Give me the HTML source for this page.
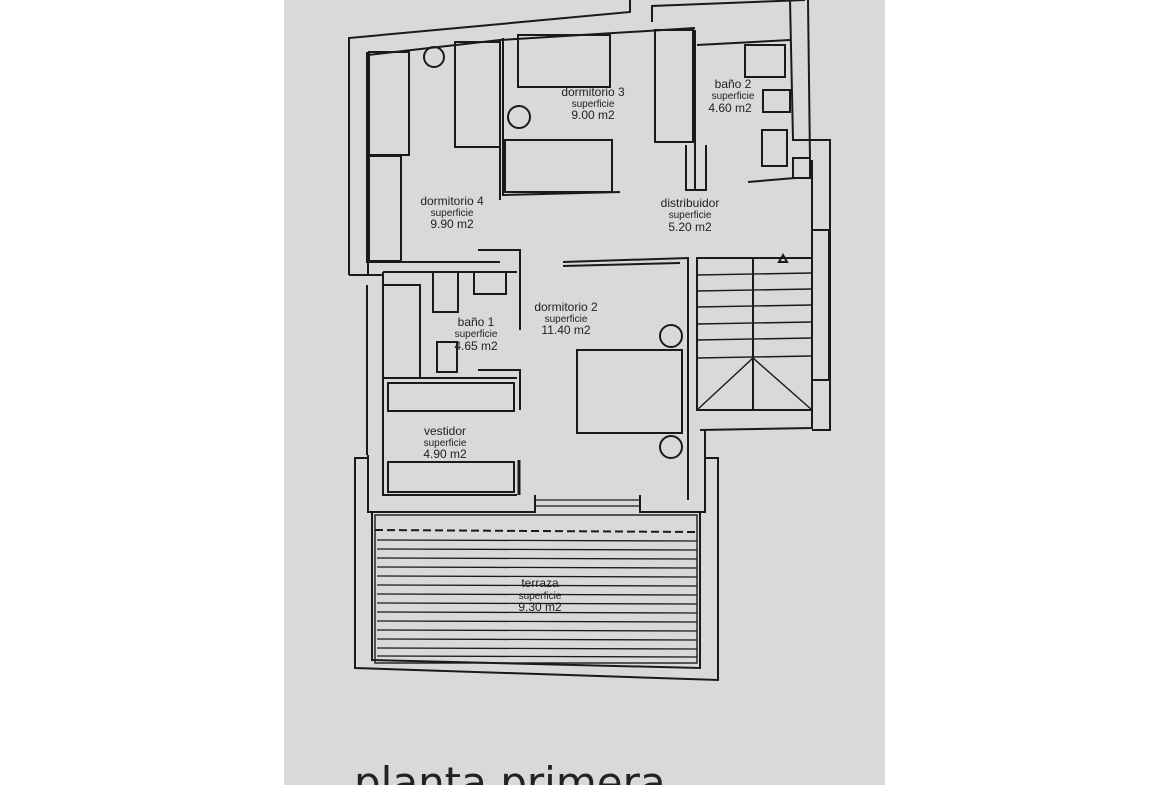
<!DOCTYPE html>
<html><head><style>
html,body{margin:0;padding:0;background:#fff;}
body{width:1170px;height:785px;overflow:hidden;position:relative;}
.paper{position:absolute;left:284px;top:0;width:601px;height:785px;background:#d9d9d9;}
svg{position:absolute;left:0;top:0;}
text{font-family:"Liberation Sans",sans-serif;fill:#222;}
</style></head><body>
<div class="paper"></div>
<svg width="1170" height="785" viewBox="0 0 1170 785">
<g fill="none" stroke="#1a1a1a" stroke-width="2">
<polyline points="349,275 349,38 630,12 630,0"/>
<polyline points="368,275 368,55 500,40 695,28"/>
<polyline points="652,22 652,6 805,0"/>
<polyline points="367,52 367,262 500,262"/>
<polyline points="383,272 517,272"/>
<polyline points="349,275 383,275 383,455"/>
<polyline points="367,285 367,455"/>
<polyline points="790,0 793,140 830,140 830,430 812,430"/>
<polyline points="808,0 810,160"/>
<polyline points="812,160 812,410"/>
<rect x="812" y="230" width="17" height="150"/>
<rect x="793" y="158" width="17" height="20"/>
<rect x="369" y="52" width="40" height="103"/>
<rect x="369" y="156" width="32" height="105"/>
<rect x="455" y="42" width="45" height="105"/>
<circle cx="434" cy="57" r="10"/>
<polyline points="503,38 503,195 620,192"/>
<polyline points="500,40 500,200"/>
<rect x="518" y="35" width="92" height="52"/>
<rect x="505" y="140" width="107" height="52"/>
<circle cx="519" cy="117" r="11"/>
<rect x="655" y="30" width="38" height="112"/>
<polyline points="695,30 695,190"/>
<polyline points="686,145 686,190 706,190 706,145"/>
<polyline points="697,45 790,40"/>
<rect x="745" y="45" width="40" height="32"/>
<rect x="763" y="90" width="27" height="22"/>
<rect x="762" y="130" width="25" height="36"/>
<polyline points="748,182 795,178"/>
<polyline points="563,262 688,258 688,500"/>
<polyline points="563,266 680,263"/>
<rect x="697" y="258" width="115" height="152"/>
<polyline points="753,258 753,410"/>
<g stroke-width="1.4">
<line x1="697" y1="275" x2="812" y2="273"/>
<line x1="697" y1="291" x2="812" y2="289"/>
<line x1="697" y1="307" x2="812" y2="305"/>
<line x1="697" y1="324" x2="812" y2="322"/>
<line x1="697" y1="340" x2="812" y2="338"/>
<line x1="697" y1="358" x2="812" y2="356"/>
<polyline points="697,410 753,358 812,410"/>
</g>
<polygon points="779,262 783,255 787,262"/>
<polyline points="700,430 812,428 812,410"/>
<polyline points="705,430 705,458"/>
<polyline points="383,272 383,378 517,378"/>
<rect x="433" y="272" width="25" height="40"/>
<rect x="474" y="272" width="32" height="22"/>
<rect x="437" y="342" width="20" height="30"/>
<polyline points="383,285 420,285 420,378"/>
<polyline points="478,250 520,250 520,330"/>
<polyline points="478,370 520,370 520,410"/>
<rect x="388" y="383" width="126" height="28"/>
<rect x="388" y="462" width="126" height="30"/>
<polyline points="383,378 383,495 517,495"/>
<line x1="519" y1="460" x2="519" y2="495" stroke-width="3"/>
<rect x="577" y="350" width="105" height="83"/>
<circle cx="671" cy="336" r="11"/>
<circle cx="671" cy="447" r="11"/>
<polyline points="368,455 368,512 535,512 535,495"/>
<polyline points="640,495 640,512 705,512 705,458"/>
<polygon points="355,458 368,458 368,512 372,512 372,660 700,668 700,512 705,512 705,458 718,458 718,680 355,668"/>
<rect x="375" y="515" width="322" height="148" stroke-width="1.4"/>
<line x1="375" y1="530" x2="697" y2="532" stroke-dasharray="8,4" stroke-width="2"/>
<g stroke-width="1.3">
<line x1="535" y1="500" x2="640" y2="500"/>
<line x1="535" y1="506" x2="640" y2="506"/>
<line x1="377" y1="540" x2="697" y2="541"/>
<line x1="377" y1="549" x2="697" y2="550"/>
<line x1="377" y1="558" x2="697" y2="559"/>
<line x1="377" y1="567" x2="697" y2="568"/>
<line x1="377" y1="576" x2="697" y2="577"/>
<line x1="377" y1="585" x2="697" y2="586"/>
<line x1="377" y1="594" x2="697" y2="595"/>
<line x1="377" y1="603" x2="697" y2="604"/>
<line x1="377" y1="612" x2="697" y2="613"/>
<line x1="377" y1="621" x2="697" y2="622"/>
<line x1="377" y1="630" x2="697" y2="631"/>
<line x1="377" y1="639" x2="697" y2="640"/>
<line x1="377" y1="648" x2="697" y2="649"/>
<line x1="377" y1="656" x2="697" y2="657"/>
</g>
</g>
<g font-size="12" text-anchor="middle">
<text x="452" y="205">dormitorio 4</text>
<text x="452" y="216" font-size="10">superficie</text>
<text x="452" y="228">9.90 m2</text>
<text x="593" y="96">dormitorio 3</text>
<text x="593" y="107" font-size="10">superficie</text>
<text x="593" y="119">9.00 m2</text>
<text x="733" y="88">baño 2</text>
<text x="733" y="99" font-size="10">superficie</text>
<text x="730" y="112">4.60 m2</text>
<text x="690" y="207">distribuidor</text>
<text x="690" y="218" font-size="10">superficie</text>
<text x="690" y="231">5.20 m2</text>
<text x="566" y="311">dormitorio 2</text>
<text x="566" y="322" font-size="10">superficie</text>
<text x="566" y="334">11.40 m2</text>
<text x="476" y="326">baño 1</text>
<text x="476" y="337" font-size="10">superficie</text>
<text x="476" y="350">4.65 m2</text>
<text x="445" y="435">vestidor</text>
<text x="445" y="446" font-size="10">superficie</text>
<text x="445" y="458">4.90 m2</text>
<text x="540" y="587">terraza</text>
<text x="540" y="599" font-size="10">superficie</text>
<text x="540" y="611">9.30 m2</text>
</g>
<text x="354" y="797" font-size="42" style="font-family:'DejaVu Sans',sans-serif" fill="#111">planta primera</text>
</svg>
</body></html>
